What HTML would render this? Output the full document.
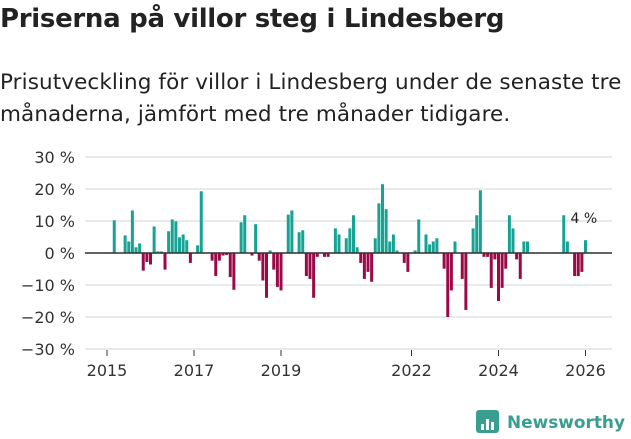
<!DOCTYPE html>
<html><head><meta charset="utf-8">
<style>
body{margin:0;background:#fff;width:631px;height:439px;overflow:hidden;font-family:"Liberation Sans","DejaVu Sans",sans-serif;color:#222}
h1{position:absolute;left:0;top:4px;margin:0;font-size:26px;font-weight:bold;font-family:"DejaVu Sans","Liberation Sans",sans-serif;letter-spacing:-0.3px}
p{position:absolute;left:0;top:67px;margin:0;font-size:21.5px;line-height:32px;font-family:"DejaVu Sans","Liberation Sans",sans-serif;color:#222;width:631px;letter-spacing:0.1px}
svg{position:absolute;left:0;top:0}
</style></head><body>
<h1>Priserna på villor steg i Lindesberg</h1>
<p>Prisutveckling för villor i Lindesberg under de senaste tre månaderna, jämfört med tre månader tidigare.</p>
<svg id="chart" width="631" height="439"></svg>
<script>
const months=[2,5,6,7,8,9,10,11,12,13,14,15,16,17,18,19,20,21,22,23,25,26,29,30,31,32,33,34,35,37,38,40,41,42,43,44,45,46,47,48,50,51,53,54,55,56,57,58,60,61,63,64,66,67,68,69,70,71,72,73,74,75,76,77,78,79,80,82,83,85,86,88,89,90,91,93,94,95,96,98,99,101,102,103,104,105,106,107,108,109,110,111,112,113,114,115,116,126,127,129,130,131,132];
const values=[10.2,5.5,3.6,13.3,1.8,3,-5.5,-2.8,-3.6,8.3,0.5,0.5,-5.2,6.8,10.5,9.9,4.9,5.8,4,-3.1,2.4,19.3,-2.4,-7.2,-2.4,-0.8,-0.6,-7.5,-11.5,9.6,11.8,-0.8,9,-2.4,-8.6,-14,0.8,-5.2,-10.6,-11.7,12,13.3,6.5,7.1,-7.2,-8.1,-14,-1.2,-1.2,-1.2,7.7,5.8,4.6,7.7,11.8,1.8,-3.1,-8.1,-5.9,-9,4.6,15.5,21.5,13.7,3.6,5.8,0.8,-3.1,-5.9,0.8,10.5,5.8,2.7,3.6,4.6,-4.9,-20,-11.7,3.6,-8.1,-17.8,7.7,11.8,19.6,-1.2,-1.2,-10.9,-2,-15,-10.9,-4.9,11.8,7.7,-2,-8.1,3.6,3.6,11.8,3.6,-7.2,-7.2,-5.9,4];
const yTicks=[30,20,10,0,-10,-20,-30];
const yTickLabels=["30 %","20 %","10 %","0 %","−10 %","−20 %","−30 %"];
const xTickYears=[2015,2017,2019,2022,2024,2026];
const lastLabel="4 %";
const NS="http://www.w3.org/2000/svg";
const svg=document.getElementById('chart');
const X=m=>107+m*43.5/12;
const Y=v=>253-v*3.2;
function mk(t,a,txt){const e=document.createElementNS(NS,t);for(const k in a)e.setAttribute(k,a[k]);if(txt!=null)e.textContent=txt;svg.appendChild(e);return e;}
yTicks.forEach((v,i)=>{
 const g=mk('line',{x1:85,x2:612,y1:Y(v),y2:Y(v),stroke:'#e3e3e3','stroke-width':1.5});
 
 
 const t=mk('text',{x:75,y:Y(v)+6,'text-anchor':'end','font-size':16,fill:'#333','font-family':'DejaVu Sans, Liberation Sans, sans-serif'},yTickLabels[i]);
 
 
});
months.forEach((m,i)=>{
 const v=values[i];
 const r=mk('rect',{x:X(m)-1.5,width:3,y:v>=0?Y(v):Y(0),height:Math.abs(Y(v)-Y(0)),fill:v>=0?'#16a394':'#9b0a47'});
 
 
});
const zl=mk('line',{x1:85,x2:612,y1:Y(0),y2:Y(0),stroke:'#333','stroke-width':1.5});


xTickYears.forEach(yr=>{
 const m=(yr-2015)*12;
 const tk=mk('line',{x1:X(m),x2:X(m),y1:350,y2:356,stroke:'#333','stroke-width':1});
 
 
 const t=mk('text',{x:X(m),y:376,'text-anchor':'middle','font-size':16,fill:'#333','font-family':'DejaVu Sans, Liberation Sans, sans-serif'},String(yr));
 
 
});
const lm=months[months.length-1];
const lt=mk('text',{x:X(lm)-15,y:223,'font-size':14,fill:'#222','font-family':'DejaVu Sans, Liberation Sans, sans-serif'},lastLabel);


const lg=mk('rect',{x:476,y:410,width:23,height:23,rx:3,fill:'#3a9e8f'});


[[481,424,3,6],[486,419,3,11],[491,422,3,8]].forEach(b=>{const r=mk('rect',{x:b[0],y:b[1],width:b[2],height:b[3],fill:'#fff'});});
const lt2=mk('text',{x:507,y:428,'font-size':17,'font-weight':'bold',fill:'#3a9e8f','font-family':'DejaVu Sans, Liberation Sans, sans-serif',textLength:118,lengthAdjust:'spacingAndGlyphs'},'Newsworthy');


</script>
</body></html>
